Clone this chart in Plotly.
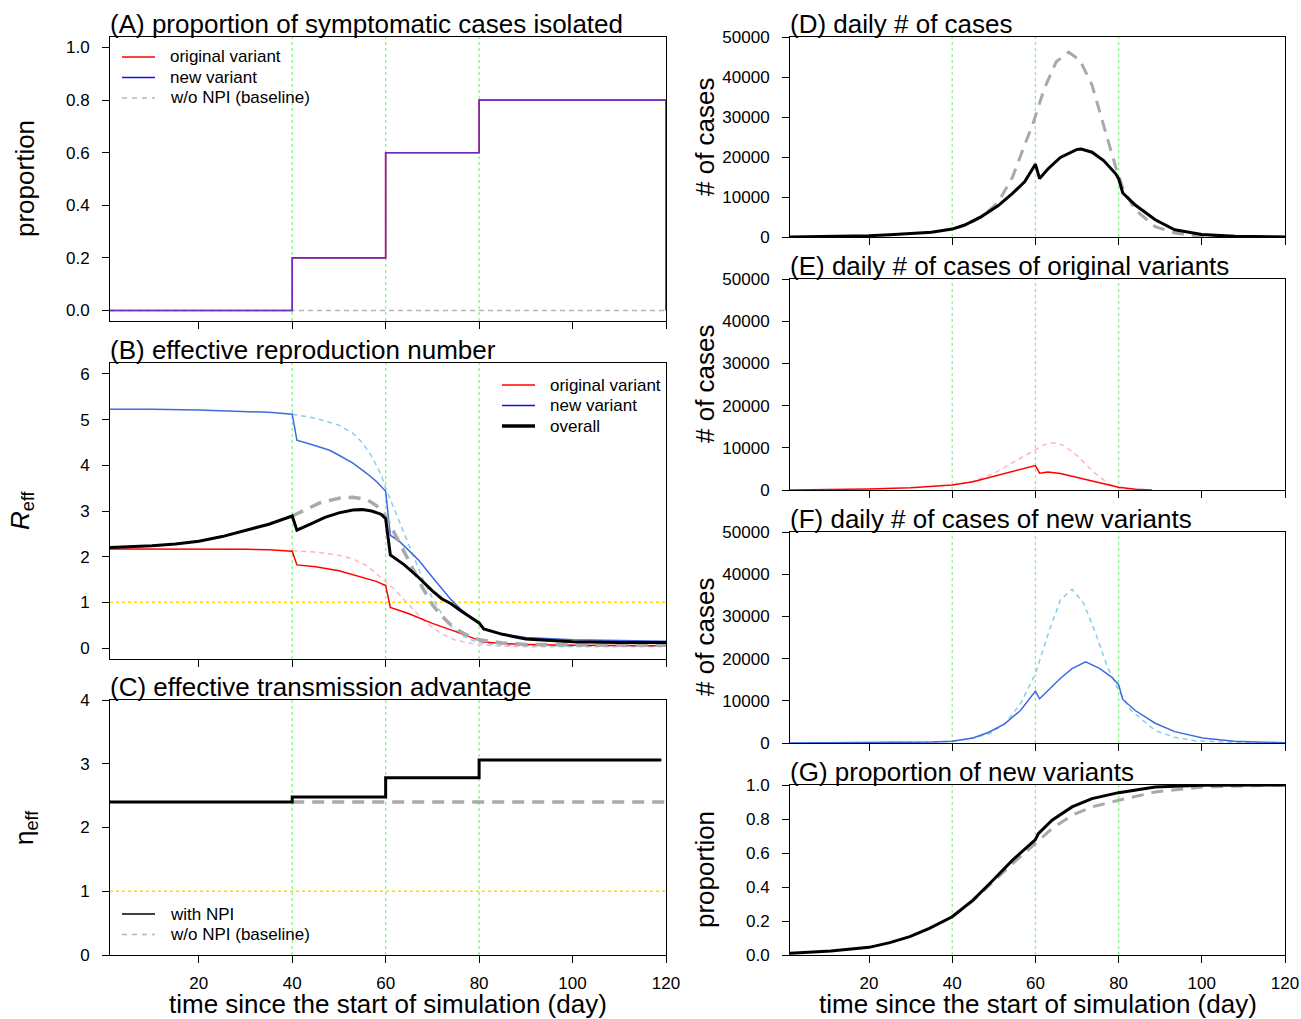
import plotly.graph_objects as go

W, H = 1301, 1019

# ---------------- DATA ----------------
x_ticks = [20, 40, 60, 80, 100, 120]
npi_days = [40, 60, 80]

# (A) proportion of symptomatic cases isolated
A_days = [1, 40, 60, 80, 120, 120]
A_orig = [0.0, 0.2, 0.6, 0.8, 0.8, 0.0]
A_new = [0.0, 0.2, 0.6, 0.8, 0.8, 0.0]
A_base_days = [1, 120]
A_base = [0.0, 0.0]

# (B) effective reproduction number
B_red_days = [1, 10, 20, 30, 35, 40, 41, 45, 50, 55, 58, 60, 61, 65, 70, 75, 80, 81, 85, 90, 100, 110, 120]
B_red = [2.17, 2.17, 2.17, 2.16, 2.15, 2.12, 1.82, 1.78, 1.69, 1.55, 1.46, 1.37, 0.89, 0.75, 0.54, 0.36, 0.18, 0.13, 0.10, 0.08, 0.06, 0.05, 0.05]
B_pink_days = [40, 45, 50, 53, 56, 58, 60, 62, 64, 66, 68, 70, 72, 75, 78, 80, 85, 90, 100, 120]
B_pink = [2.13, 2.10, 2.03, 1.95, 1.80, 1.63, 1.47, 1.28, 1.05, 0.83, 0.62, 0.45, 0.31, 0.17, 0.10, 0.07, 0.04, 0.03, 0.03, 0.03]
B_blue_days = [1, 10, 20, 30, 35, 40, 41, 45, 48, 50, 53, 56, 58, 60, 61, 63, 65, 67, 70, 72, 74, 76, 78, 80, 81, 85, 90, 100, 110, 120]
B_blue = [5.23, 5.23, 5.21, 5.18, 5.16, 5.12, 4.55, 4.43, 4.33, 4.22, 4.05, 3.82, 3.65, 3.43, 2.47, 2.33, 2.14, 1.93, 1.55, 1.30, 1.06, 0.86, 0.68, 0.53, 0.42, 0.31, 0.23, 0.18, 0.16, 0.15]
B_sky_days = [40, 45, 50, 53, 55, 57, 59, 60, 62, 64, 66, 68, 70, 72, 74, 76, 78, 80, 84, 90, 100, 120]
B_sky = [5.12, 5.03, 4.88, 4.70, 4.50, 4.20, 3.80, 3.50, 3.00, 2.50, 2.00, 1.50, 1.10, 0.75, 0.48, 0.30, 0.19, 0.12, 0.07, 0.05, 0.04, 0.04]
B_all_days = [1, 10, 15, 20, 25, 30, 35, 40, 41, 44, 47, 50, 53, 55, 57, 59, 60, 61, 64, 67, 70, 72, 74, 76, 78, 80, 81, 85, 90, 100, 110, 120]
B_all = [2.20, 2.24, 2.28, 2.34, 2.44, 2.57, 2.71, 2.89, 2.58, 2.72, 2.86, 2.96, 3.02, 3.03, 3.00, 2.93, 2.83, 2.04, 1.82, 1.55, 1.25, 1.08, 0.97, 0.82, 0.69, 0.55, 0.42, 0.30, 0.20, 0.14, 0.12, 0.12]
B_gray_days = [40, 43, 46, 50, 53, 56, 58, 60, 61, 62, 64, 66, 68, 70, 72, 74, 76, 78, 80, 85, 90, 100, 120]
B_gray = [2.89, 3.03, 3.18, 3.28, 3.30, 3.25, 3.12, 2.88, 2.69, 2.50, 2.10, 1.70, 1.30, 0.95, 0.70, 0.50, 0.36, 0.25, 0.18, 0.11, 0.08, 0.07, 0.06]

# (C) effective transmission advantage
C_days = [1, 40, 60, 80, 119]
C_npi = [2.40, 2.48, 2.78, 3.06, 3.06]
C_base_days = [40, 120]
C_base = [2.40, 2.40]

# (D) daily # of cases
D_days = [1, 10, 20, 25, 30, 35, 40, 43, 47, 51, 54.5, 57.4, 60, 61, 63, 66, 70, 71, 73.6, 76.4, 79.3, 80, 81, 84, 88.8, 93.5, 100, 108, 120]
D_npi = [20, 90, 330, 550, 820, 1200, 1980, 3000, 5100, 7800, 10900, 13800, 18200, 14600, 17000, 19900, 21900, 22000, 21200, 19100, 15800, 14600, 11000, 8000, 4300, 1800, 600, 170, 30]
D_base_days = [40, 43, 45, 47, 51, 54.5, 57.4, 59.3, 62.1, 65, 68, 70.7, 73.6, 76.4, 79.3, 81.2, 84, 88.8, 93.5, 98.3, 108, 120]
D_base = [1980, 2900, 3900, 5000, 8600, 15000, 23000, 28000, 37000, 43800, 46200, 44200, 38000, 28200, 17500, 11700, 6800, 2600, 1000, 330, 30, 0]

# (E) daily # of cases of original variants
E_days = [1, 10, 20, 30, 35, 40, 45, 50, 55, 60, 61, 63, 66, 70, 74, 77, 80, 84, 88]
E_npi = [10, 60, 250, 560, 800, 1180, 1970, 3200, 4500, 5800, 4000, 4250, 3900, 3000, 2000, 1300, 650, 200, 0]
E_base_days = [40, 45, 50, 54.5, 60, 62, 64.3, 67, 70.3, 74, 77.8, 80, 84, 88]
E_base = [1180, 2100, 3900, 6500, 9700, 10700, 11200, 10500, 7900, 4200, 1400, 450, 120, 0]

# (F) daily # of cases of new variants
F_days = [1, 20, 30, 35, 40, 45, 48.8, 52.6, 56.4, 60, 61, 63.1, 65.9, 68.8, 72.1, 75.5, 78.3, 80, 81, 84, 88.8, 93.5, 100.2, 107.8, 120]
F_npi = [0, 30, 120, 220, 400, 1190, 2540, 4520, 7700, 12300, 10480, 12460, 15240, 17620, 19210, 17620, 15630, 13810, 10320, 7700, 4680, 2700, 1190, 400, 50]
F_base_days = [1, 20, 30, 35, 40, 45, 48.8, 52.6, 56.4, 60, 63.1, 66, 68.8, 71.6, 74.5, 77.3, 80, 83, 88.8, 93.5, 98.3, 107.8, 120]
F_base = [0, 30, 120, 220, 400, 1190, 2140, 4520, 9290, 16430, 25950, 33890, 36430, 33100, 25950, 18020, 12460, 7700, 2940, 1350, 560, 160, 20]

# (G) proportion of new variants
G_days = [1, 10.8, 20, 25, 29.8, 34.5, 40, 45, 49.8, 54.5, 60, 60.7, 64, 68.8, 73.6, 80, 88.8, 100, 120]
G_npi = [0.01, 0.023, 0.045, 0.073, 0.108, 0.157, 0.225, 0.323, 0.44, 0.558, 0.679, 0.714, 0.793, 0.871, 0.92, 0.955, 0.988, 0.998, 1.0]
G_base_days = [40, 45, 49.8, 54.5, 60, 64, 68.8, 73.6, 80, 88.8, 100, 120]
G_base = [0.225, 0.32, 0.43, 0.538, 0.656, 0.744, 0.822, 0.871, 0.91, 0.959, 0.988, 1.0]

# legend labels
legA_labels = ["original variant", "new variant", "w/o NPI (baseline)"]
legB_labels = ["original variant", "new variant", "overall"]
legC_labels = ["with NPI", "w/o NPI (baseline)"]

# ---------------- STYLE / LAYOUT ----------------
FONT = "Arial, Liberation Sans, sans-serif"
RED = "#FF0000"
BLUE = "#4169E1"
PUREBLUE = "#1010E8"
SKY = "#87CEEB"
PINK = "#FFB6C1"
GRAY = "#A9A9A9"
LGRAY = "#B8B8B8"
GREEN = "#90EE90"
GOLD = "#FFD700"


def fx(p):
    return p / W


def fy(p):
    return 1 - p / H


LEFT = (110, 666)
RIGHT = (790, 1285)
panels = {
    "A": dict(ax=1, xs=LEFT, ys=(37, 321)),
    "B": dict(ax=2, xs=LEFT, ys=(363, 659)),
    "C": dict(ax=3, xs=LEFT, ys=(700, 955)),
    "D": dict(ax=4, xs=RIGHT, ys=(37, 237)),
    "E": dict(ax=5, xs=RIGHT, ys=(279, 490)),
    "F": dict(ax=6, xs=RIGHT, ys=(532, 743)),
    "G": dict(ax=7, xs=RIGHT, ys=(785, 955)),
}

fig = go.Figure()


def ax_ids(k):
    n = panels[k]["ax"]
    return ("x" if n == 1 else f"x{n}"), ("y" if n == 1 else f"y{n}")


def add(k, x, y, color, width, dash="solid", name=None, shape="linear"):
    xa, ya = ax_ids(k)
    fig.add_trace(go.Scatter(
        x=x, y=y, mode="lines", xaxis=xa, yaxis=ya,
        line=dict(color=color, width=width, dash=dash, shape=shape),
        name=name, showlegend=False, hoverinfo="skip"))


THIN_DASH = "5px,4px"
THICK_DASH = "12px,8px"

# A
add("A", A_base_days, A_base, LGRAY, 1.3, THIN_DASH, name=legA_labels[2])
add("A", A_days, A_orig, RED, 1.6, name=legA_labels[0], shape="hv")
add("A", A_days, A_new, "rgba(60,60,255,0.72)", 1.6, name=legA_labels[1], shape="hv")

# B
add("B", B_pink_days, B_pink, PINK, 1.5, THIN_DASH)
add("B", B_sky_days, B_sky, SKY, 1.5, THIN_DASH)
add("B", B_red_days, B_red, RED, 1.5, name=legB_labels[0])
add("B", B_blue_days, B_blue, BLUE, 1.5, name=legB_labels[1])
add("B", B_gray_days, B_gray, GRAY, 3.5, THICK_DASH)
add("B", B_all_days, B_all, "black", 3, name=legB_labels[2])

# C
add("C", C_base_days, C_base, GRAY, 3.5, THICK_DASH, name=legC_labels[1])
add("C", C_days, C_npi, "black", 3, name=legC_labels[0], shape="hv")

# D-G
add("D", D_base_days, D_base, GRAY, 3, THICK_DASH)
add("D", D_days, D_npi, "black", 3)
add("E", E_base_days, E_base, PINK, 1.5, THIN_DASH)
add("E", E_days, E_npi, RED, 1.5)
add("F", F_base_days, F_base, SKY, 1.5, THIN_DASH)
add("F", F_days, F_npi, BLUE, 1.5)
add("G", G_base_days, G_base, GRAY, 3, THICK_DASH)
add("G", G_days, G_npi, "black", 3)

yranges = {
    "A": dict(range=[-0.04, 1.04], tickvals=[0, 0.2, 0.4, 0.6, 0.8, 1.0], tickformat=".1f"),
    "B": dict(range=[-0.24, 6.24], tickvals=[0, 1, 2, 3, 4, 5, 6]),
    "C": dict(range=[0, 4], tickvals=[0, 1, 2, 3, 4]),
    "D": dict(range=[0, 50000], tickvals=[0, 10000, 20000, 30000, 40000, 50000], tickformat="d"),
    "E": dict(range=[0, 50000], tickvals=[0, 10000, 20000, 30000, 40000, 50000], tickformat="d"),
    "F": dict(range=[0, 50000], tickvals=[0, 10000, 20000, 30000, 40000, 50000], tickformat="d"),
    "G": dict(range=[0, 1], tickvals=[0, 0.2, 0.4, 0.6, 0.8, 1.0], tickformat=".1f"),
}

common = dict(showline=True, mirror=True, linecolor="black", linewidth=1,
              ticks="outside", ticklen=7, tickcolor="black", tickwidth=1,
              showgrid=False, zeroline=False, automargin=False, fixedrange=True,
              tickfont=dict(family=FONT, size=17, color="black"))

layout = {}
shapes = []
for k, p in panels.items():
    n = p["ax"]
    xs, ys = p["xs"], p["ys"]
    xkey = "xaxis" if n == 1 else f"xaxis{n}"
    ykey = "yaxis" if n == 1 else f"yaxis{n}"
    yid = "y" if n == 1 else f"y{n}"
    xid = "x" if n == 1 else f"x{n}"
    bottom = k in ("C", "G")
    layout[xkey] = dict(common, domain=[fx(xs[0]), fx(xs[1])], range=[1, 120],
                        tickvals=x_ticks, showticklabels=bottom, anchor=yid,
                        ticklabelstandoff=6)
    layout[ykey] = dict(common, domain=[fy(ys[1]), fy(ys[0])], anchor=xid,
                        ticklabelstandoff=9, **yranges[k])
    for d in npi_days:
        shapes.append(dict(type="line", xref=xid, yref=f"{yid} domain", x0=d, x1=d, y0=0, y1=1,
                           line=dict(color=GREEN, width=1.3, dash="dot"), layer="below"))
    if k in ("B", "C"):
        shapes.append(dict(type="line", xref=f"{xid} domain", yref=yid, x0=0, x1=1, y0=1, y1=1,
                           line=dict(color=GOLD, width=1.5, dash="dot"), layer="below"))

fig.update_layout(**layout)

titles = {
    "A": "(A) proportion of symptomatic cases isolated",
    "B": "(B) effective reproduction number",
    "C": "(C) effective transmission advantage",
    "D": "(D) daily # of cases",
    "E": "(E) daily # of cases of original variants",
    "F": "(F) daily # of cases of new variants",
    "G": "(G) proportion of new variants",
}
ann = []
for k, t in titles.items():
    p = panels[k]
    ann.append(dict(text=t, xref="paper", yref="paper", x=fx(p["xs"][0] - 2), y=fy(p["ys"][0]),
                    xanchor="left", yanchor="bottom", showarrow=False, yshift=-4,
                    font=dict(family=FONT, size=26, color="black")))

ylabels = [
    ("proportion", 25, 179),
    ("<i>R</i><sub>eff</sub>", 22, 510),
    ("η<sub>eff</sub>", 25, 828),
    ("# of cases", 705, 137),
    ("# of cases", 705, 384),
    ("# of cases", 705, 637),
    ("proportion", 705, 870),
]
for t, x, y in ylabels:
    ann.append(dict(text=t, xref="paper", yref="paper", x=fx(x), y=fy(y), xanchor="center",
                    yanchor="middle", textangle=-90, showarrow=False,
                    font=dict(family=FONT, size=26, color="black")))
for cx in ((LEFT[0] + LEFT[1]) / 2, (RIGHT[0] + RIGHT[1]) / 2):
    ann.append(dict(text="time since the start of simulation (day)", xref="paper", yref="paper",
                    x=fx(cx), y=fy(1004), xanchor="center", yanchor="middle", showarrow=False,
                    font=dict(family=FONT, size=26, color="black")))


# legends (R-style key: short line + label)
def legend_block(x0, y0, dy, items):
    for i, (label, color, width, dash) in enumerate(items):
        yy = y0 + i * dy
        shapes.append(dict(type="line", xref="paper", yref="paper",
                           x0=fx(x0), x1=fx(x0 + 33), y0=fy(yy), y1=fy(yy),
                           line=dict(color=color, width=width, dash=dash)))
        ann.append(dict(text=label, xref="paper", yref="paper", x=fx(x0 + 46), y=fy(yy),
                        xanchor="left", yanchor="middle", showarrow=False,
                        font=dict(family=FONT, size=17, color="black")))


legend_block(122, 57, 20.5, [
    (legA_labels[0], RED, 1.5, "solid"),
    (legA_labels[1], PUREBLUE, 1.5, "solid"),
    (legA_labels[2], LGRAY, 1.3, "5px,5px"),
])
legend_block(502, 385, 20.5, [
    (legB_labels[0], RED, 1.5, "solid"),
    (legB_labels[1], PUREBLUE, 1.5, "solid"),
    (legB_labels[2], "black", 3.5, "solid"),
])
legend_block(122, 914, 20.5, [
    (legC_labels[0], "black", 1.5, "solid"),
    (legC_labels[1], LGRAY, 1.3, "5px,5px"),
])

fig.update_layout(
    width=W, height=H, margin=dict(l=0, r=0, t=0, b=0, pad=0, autoexpand=False),
    paper_bgcolor="white", plot_bgcolor="white",
    shapes=shapes, annotations=ann, showlegend=False,
    font=dict(family=FONT, color="black"),
)

fig.write_html("out.html", config={"displayModeBar": False},
               post_script="document.body.style.margin='0';document.body.style.overflow='hidden';")
